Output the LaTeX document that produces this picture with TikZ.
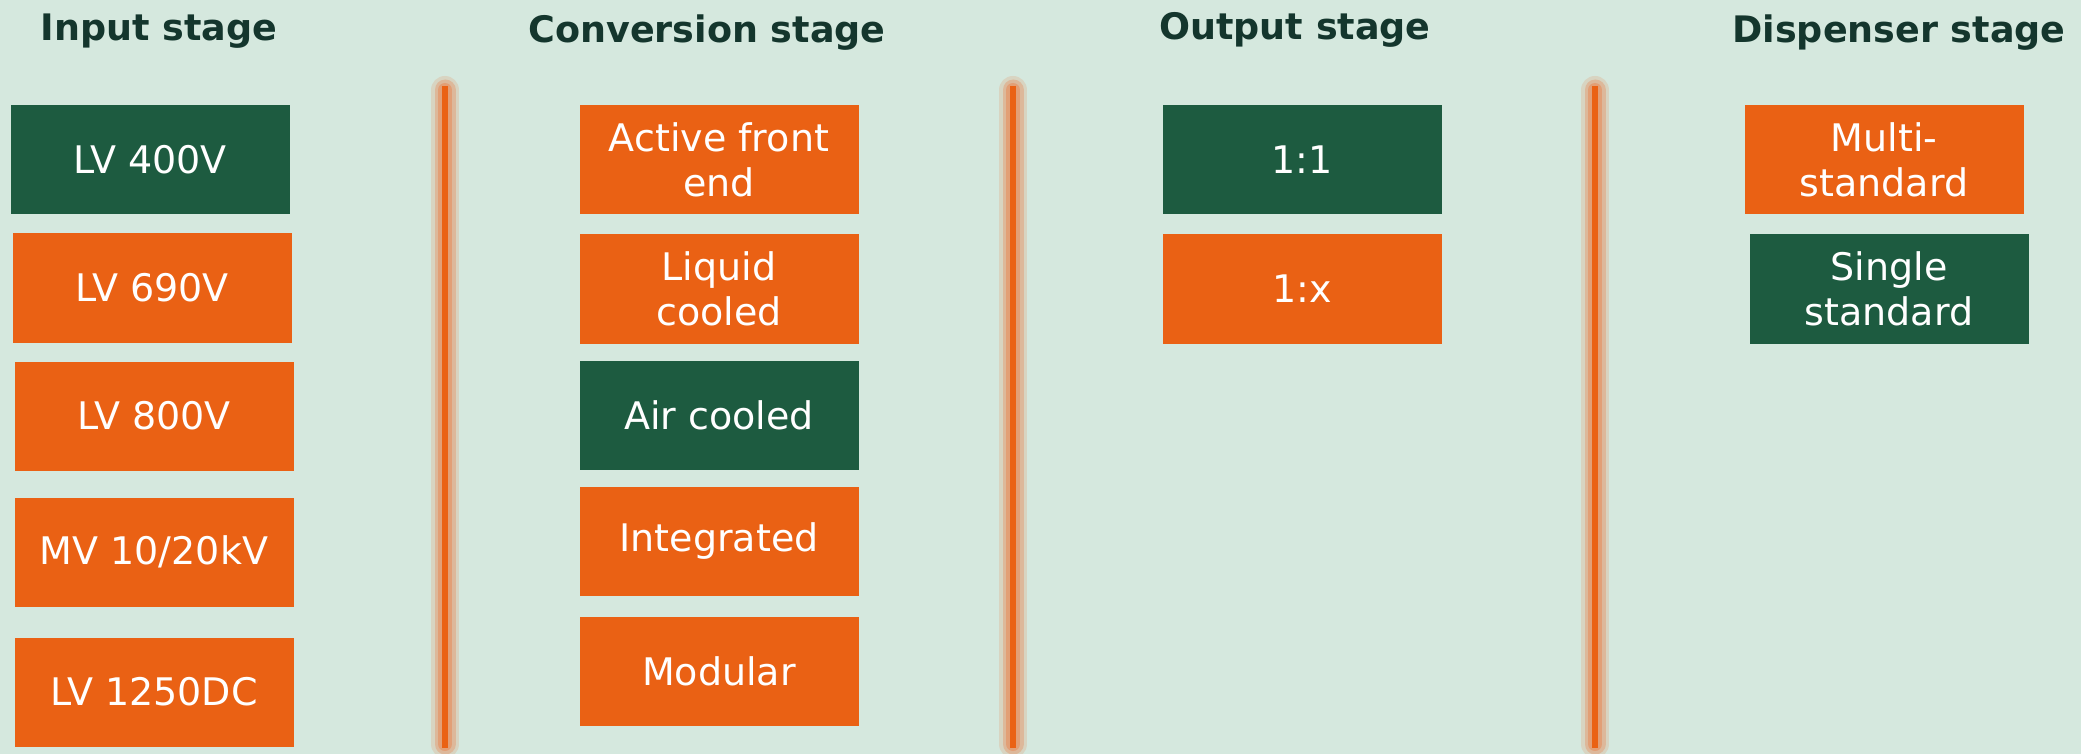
\documentclass[tikz,border=0pt]{standalone}
\usepackage{fontspec}
\setmainfont{DejaVu Sans}
\definecolor{bgmint}{HTML}{D5E8DE}
\definecolor{titlegreen}{HTML}{14362D}
\definecolor{boxorange}{HTML}{EA6114}
\definecolor{boxgreen}{HTML}{1D5B40}
\definecolor{glow}{HTML}{EA7A40}
\tikzset{
  stagebox/.style={minimum width=279pt, minimum height=109pt, inner sep=0pt,
    align=center, text=white, font=\fontsize{38}{45}\selectfont},
  orangebox/.style={stagebox, fill=boxorange},
  greenbox/.style={stagebox, fill=boxgreen},
  stagetitle/.style={text=titlegreen, font=\fontsize{36.5}{42}\selectfont\bfseries}
}
\begin{document}
\begin{tikzpicture}[x=1pt,y=-1pt]
\useasboundingbox (0,0) rectangle (2081,754);
\fill[bgmint] (0,0) rectangle (2081,754);

% titles
\node[stagetitle] (tin) at (159,31){Input stage};
\node[stagetitle] (tconv) at (707,33){Conversion stage};
\node[stagetitle] (tout) at (1295,30){Output stage};
\node[stagetitle] (tdisp) at (1899,33){Dispenser stage};

% separators
\foreach \sx in {445,1013,1595}{
  \draw[glow, line width=28pt, line cap=round, opacity=.18] (\sx,90) to (\sx,744);
  \draw[glow, line width=21pt, line cap=round, opacity=.3] (\sx,90) to (\sx,744);
  \draw[glow, line width=14pt, line cap=round, opacity=.4] (\sx,90) to (\sx,744);
  \draw[boxorange, line width=6pt] (\sx,86) to (\sx,748);
}

% input stage
\node[greenbox] (lv400) at (150,160){LV 400V};
\node[orangebox] (lv690) at (152,288){LV 690V};
\node[orangebox] (lv800) at (154,416){LV 800V};
\node[orangebox] (mv) at (154,552){MV 10/20kV};
\node[orangebox] (lvdc) at (154,692){LV 1250DC};

% conversion stage
\node[orangebox] (afe) at (719,160){Active front\\end};
\node[orangebox] (liquid) at (719,289){Liquid\\cooled};
\node[greenbox] (air) at (719,415){Air cooled};
\node[orangebox] (integ) at (719,541){Integrated};
\node[orangebox] (modular) at (719,671){Modular};

% output stage
\node[greenbox] (oneone) at (1302,160){1:1};
\node[orangebox] (onex) at (1302,289){1:x};

% dispenser stage
\node[orangebox] (multi) at (1884,160){Multi-\\standard};
\node[greenbox] (single) at (1889,289){Single\\standard};
\end{tikzpicture}
\end{document}
